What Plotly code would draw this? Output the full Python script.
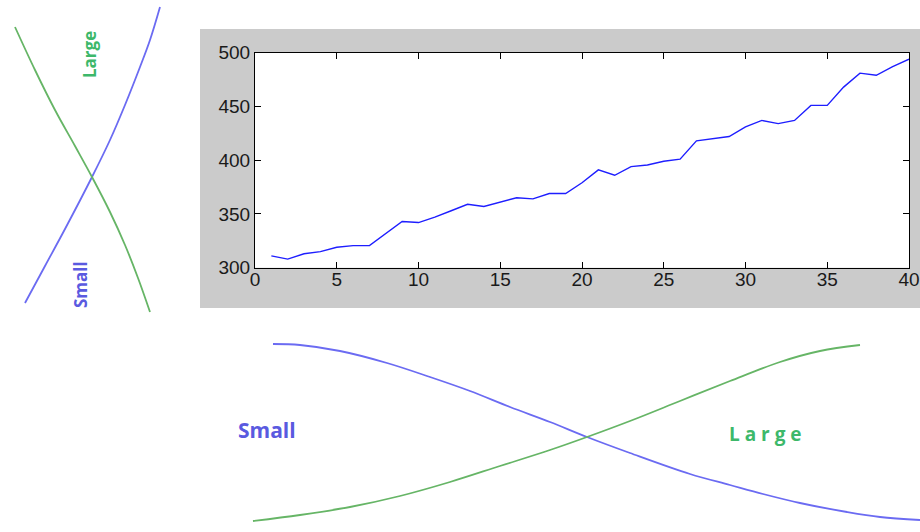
import plotly.graph_objects as go

# Main series
x_vals = list(range(1, 41))
y_vals = [311, 308, 313, 315, 319, 320.5, 320.5, 332, 343, 342,
          347, 353, 359, 357, 361, 365, 364, 369, 369, 379,
          391, 386, 394, 395.5, 399, 401, 418, 420, 422, 431,
          437, 434, 437, 451, 451, 468, 481, 479, 487, 494]
x_ticks = [0, 5, 10, 15, 20, 25, 30, 35, 40]
y_ticks = [300, 350, 400, 450, 500]

# Decorative curves (in page-like units of an overlay axis)
left_small_x = [25, 45, 65, 92, 110, 125, 140, 150, 160]
left_small_y = [303, 266, 229, 177, 140, 105, 67, 40, 7]
left_large_x = [15, 35, 55, 75, 92, 110, 125, 138, 150]
left_large_y = [27, 70, 110, 146, 177, 212, 245, 278, 312]
bottom_small_x = [273, 300, 340, 387, 430, 470, 510, 550, 587, 630, 690, 730, 763, 800, 847, 880, 920]
bottom_small_y = [344, 345, 351, 363, 377, 391, 407, 422, 437, 453, 474, 485, 494, 503, 512, 517, 520]
bottom_large_x = [253, 300, 350, 400, 450, 500, 550, 587, 630, 680, 730, 780, 820, 860]
bottom_large_y = [521, 515, 507, 496, 482, 466, 450, 437, 421, 401, 381, 362, 351, 345]

W, H = 920, 532
BLUE_D = "#6B6BF2"
GREEN_D = "#66B566"

fig = go.Figure()
fig.add_trace(go.Scatter(x=x_vals, y=y_vals, mode="lines",
                         line=dict(color="#1E1EFF", width=1.4),
                         xaxis="x", yaxis="y", showlegend=False, hoverinfo="skip"))

for xs, ys, col in [(left_small_x, left_small_y, BLUE_D),
                    (left_large_x, left_large_y, GREEN_D),
                    (bottom_small_x, bottom_small_y, BLUE_D),
                    (bottom_large_x, bottom_large_y, GREEN_D)]:
    fig.add_trace(go.Scatter(x=xs, y=ys, mode="lines",
                             line=dict(color=col, width=1.8, shape="spline", smoothing=1.0),
                             xaxis="x2", yaxis="y2", showlegend=False, hoverinfo="skip"))

x0p, x1p = 255, 909
ytop, ybot = 52.7, 267.7
shapes = [
    dict(type="rect", xref="paper", yref="paper", x0=200 / W, x1=1, y0=1 - 308 / H, y1=1 - 29 / H,
         fillcolor="#CBCBCB", line=dict(width=0), layer="below"),
    dict(type="rect", xref="paper", yref="paper", x0=x0p / W, x1=x1p / W, y0=1 - ybot / H, y1=1 - ytop / H,
         fillcolor="white", line=dict(width=0), layer="below"),
]

tick_font = dict(family="Liberation Sans, Arial, sans-serif", size=19, color="#1a1a1a")
lab_font_family = "Open Sans, Lato, sans-serif"

annotations = [
    dict(x=89, y=55, xref="x2", yref="y2", text="<b>Large</b>", textangle=-90, showarrow=False,
         font=dict(family=lab_font_family, size=17, color="#3DB86A")),
    dict(x=80, y=285, xref="x2", yref="y2", text="<b>Small</b>", textangle=-90, showarrow=False,
         font=dict(family=lab_font_family, size=17, color="#5A5AE0")),
    dict(x=267, y=430, xref="x2", yref="y2", text="<b>Small</b>", showarrow=False,
         font=dict(family=lab_font_family, size=21, color="#5A5AE0")),
    dict(x=765, y=434, xref="x2", yref="y2", text="<b>L a r g e</b>", showarrow=False,
         font=dict(family=lab_font_family, size=19, color="#3DB86A")),
]

fig.update_layout(
    width=W, height=H, autosize=False,
    margin=dict(l=0, r=0, t=0, b=0, pad=0, autoexpand=False),
    paper_bgcolor="white", plot_bgcolor="rgba(0,0,0,0)",
    shapes=shapes, annotations=annotations,
    xaxis=dict(domain=[x0p / W, x1p / W], anchor="y", range=[0, 40], tickvals=x_ticks,
               ticks="inside", ticklen=6, mirror="ticks", showline=True, linecolor="black",
               linewidth=1, showgrid=False, zeroline=False, tickfont=tick_font, tickcolor="black",
               automargin=False, ticklabelstandoff=-6),
    yaxis=dict(domain=[1 - ybot / H, 1 - ytop / H], anchor="x", range=[300, 500], tickvals=y_ticks,
               ticks="inside", ticklen=6, mirror="ticks", showline=True, linecolor="black",
               linewidth=1, showgrid=False, zeroline=False, tickfont=tick_font, tickcolor="black",
               automargin=False),
    xaxis2=dict(domain=[0, 1], anchor="y2", range=[0, W], visible=False),
    yaxis2=dict(domain=[0, 1], anchor="x2", range=[H, 0], visible=False),
)

fig.write_html("out.html", config={"displayModeBar": False},
               post_script="document.body.style.margin='0';document.body.style.overflow='hidden';")
